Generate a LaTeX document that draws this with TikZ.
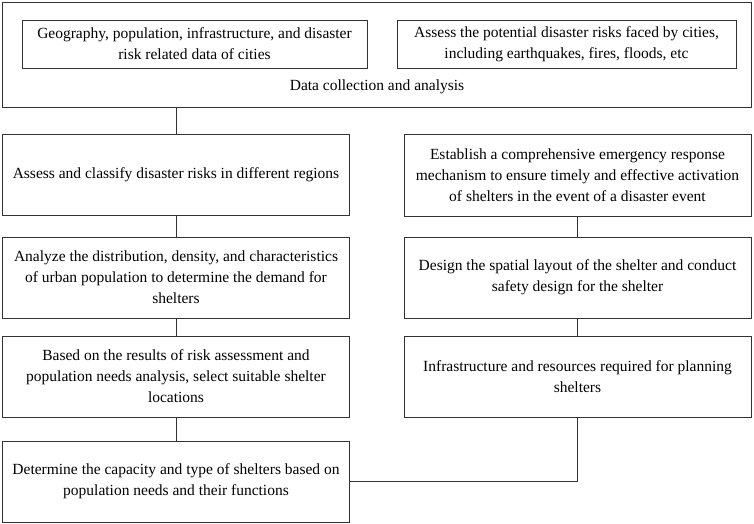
\documentclass[tikz,border=0pt]{standalone}
\usepackage{fontspec}
\setmainfont{Liberation Serif}
\begin{document}
\begin{tikzpicture}[x=1pt,y=-1pt,
  box/.style={draw=black!80, line width=0.8pt, rectangle, inner sep=0pt, align=center,
    font=\fontsize{15.5}{21}\selectfont},
  conn/.style={draw=black!80, line width=0.8pt}]
\useasboundingbox (0,0) rectangle (754,524);
% outer group box
\node[box, minimum width=749pt, minimum height=105pt] (outer) at (376.5,54.5) {};
\node[box, draw=none] (dca) at (377,87) {Data collection and analysis};
\node[box, minimum width=345pt, minimum height=48pt] (geo) at (194.5,44)
  {Geography, population, infrastructure, and disaster\\risk related data of cities};
\node[box, minimum width=339pt, minimum height=48pt] (risk) at (566.5,44)
  {Assess the potential disaster risks faced by cities,\\including earthquakes, fires, floods, etc};
% left column
\node[box, minimum width=347pt, minimum height=81pt] (a) at (176,175)
  {Assess and classify disaster risks in different regions};
\node[box, minimum width=347pt, minimum height=81pt] (b) at (176,277.5)
  {Analyze the distribution, density, and characteristics\\of urban population to determine the demand for\\shelters};
\node[box, minimum width=347pt, minimum height=81pt] (c) at (176,376.5)
  {Based on the results of risk assessment and\\population needs analysis, select suitable shelter\\locations};
\node[box, minimum width=347pt, minimum height=81pt] (d) at (176,481.5)
  {Determine the capacity and type of shelters based on\\population needs and their functions};
% right column
\node[box, minimum width=347pt, minimum height=82pt] (e) at (577.5,175)
  {Establish a comprehensive emergency response\\mechanism to ensure timely and effective activation\\of shelters in the event of a disaster event};
\node[box, minimum width=347pt, minimum height=81pt] (f) at (577.5,277.5)
  {Design the spatial layout of the shelter and conduct\\safety design for the shelter};
\node[box, minimum width=347pt, minimum height=81pt] (g) at (577.5,376.5)
  {Infrastructure and resources required for planning\\shelters};
% connectors
\draw[conn] (outer.south -| a.north) -- (a.north);
\draw[conn] (a.south) -- (b.north);
\draw[conn] (b.south) -- (c.north);
\draw[conn] (c.south) -- (d.north);
\draw[conn] (e.south) -- (f.north);
\draw[conn] (f.south) -- (g.north);
\draw[conn] (g.south) |- (d.east);
\end{tikzpicture}
\end{document}
